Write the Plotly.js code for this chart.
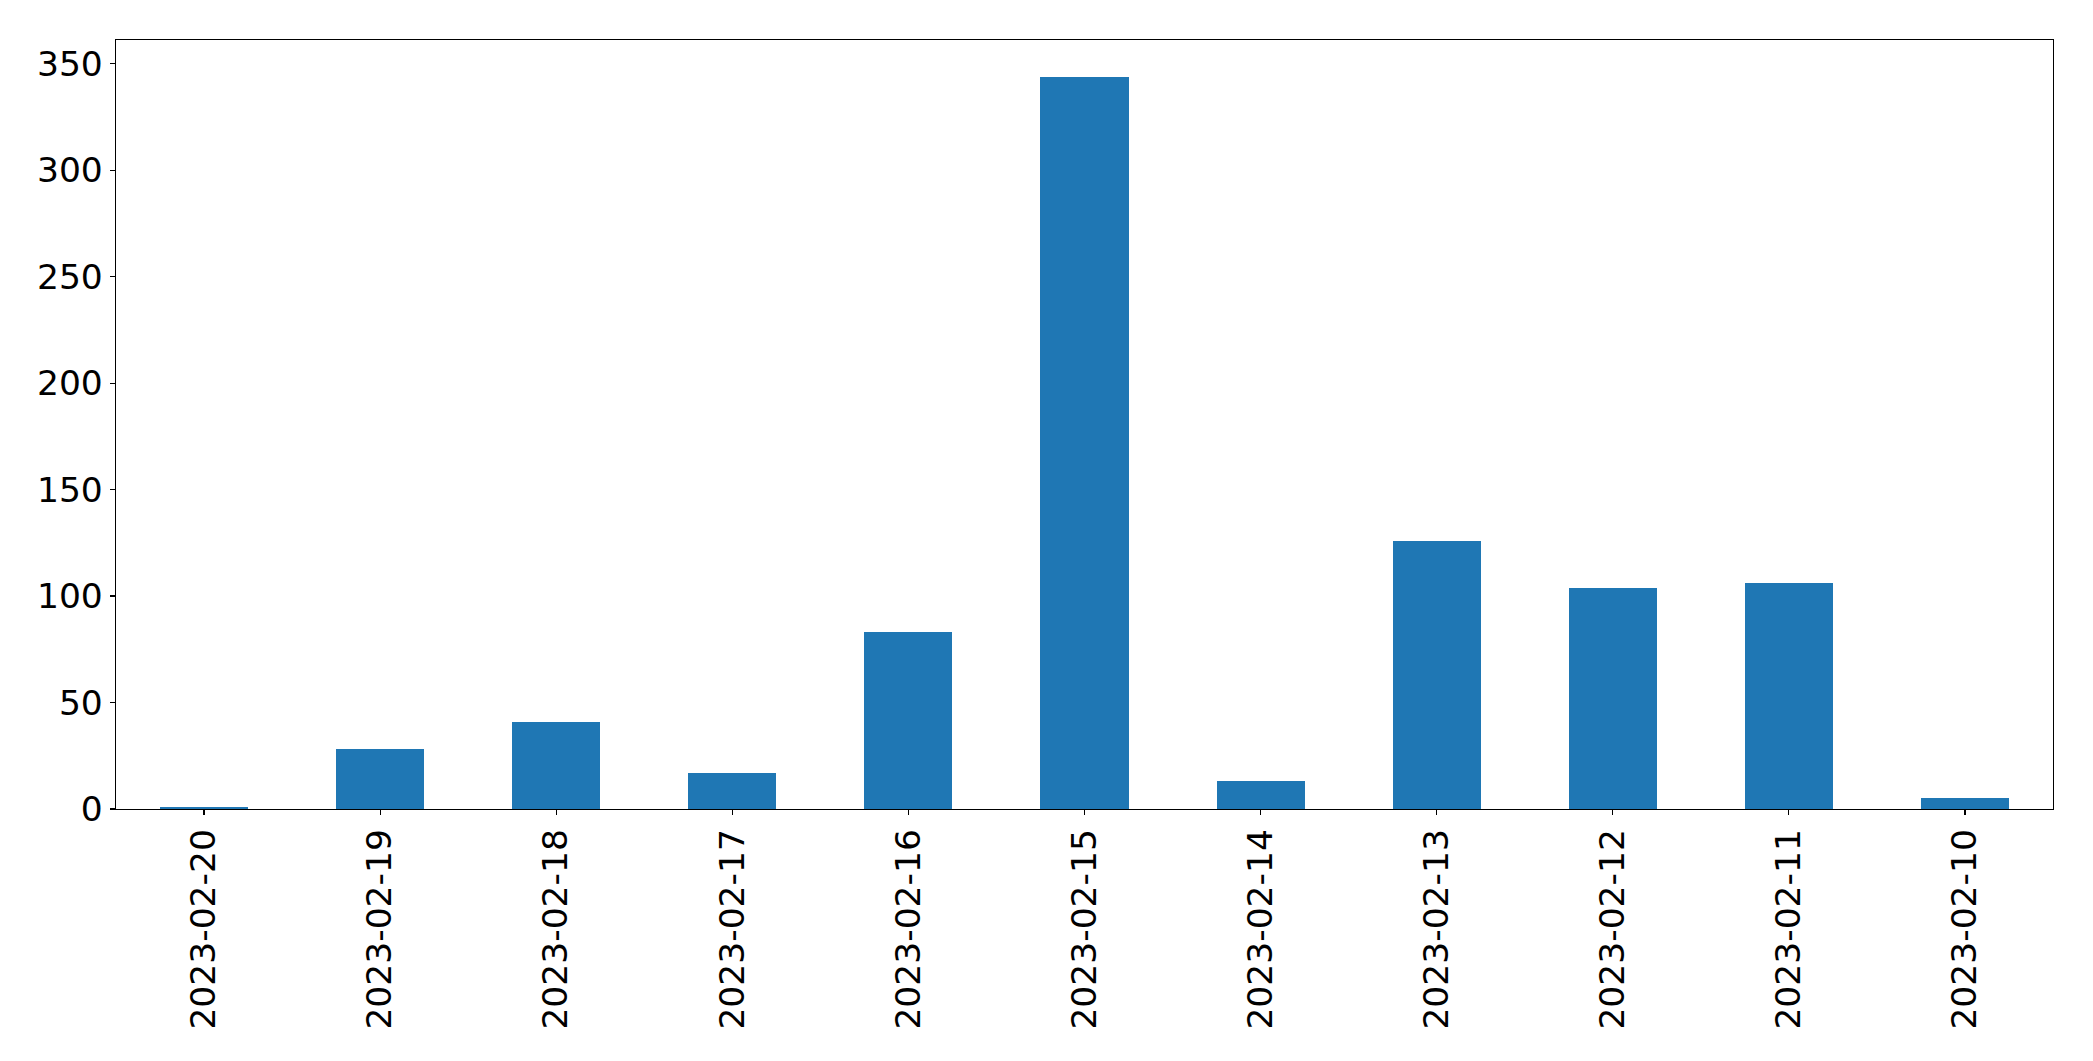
<!DOCTYPE html>
<html>
<head>
<meta charset="utf-8">
<script src="https://cdn.plot.ly/plotly-3.0.1.min.js"></script>
<style>html,body{margin:0;padding:0;background:#fff;}#chart{width:2093px;height:1061px;}</style>
</head>
<body>
<div id="chart"></div>
<script>
const dates = ["2023-02-20","2023-02-19","2023-02-18","2023-02-17","2023-02-16","2023-02-15","2023-02-14","2023-02-13","2023-02-12","2023-02-11","2023-02-10"];
const counts = [1, 28, 41, 17, 83, 344, 13, 126, 104, 106, 5];
const yTicks = [0, 50, 100, 150, 200, 250, 300, 350];

const trace = {
  type: 'bar',
  x: dates,
  y: counts,
  width: 0.5,
  marker: {color: '#1f77b4', line: {width: 0}},
  hoverinfo: 'x+y'
};

const axisFont = {family: 'DejaVu Sans, sans-serif', size: 34.5, color: '#000'};

const layout = {
  width: 2093,
  height: 1061,
  margin: {l: 116, r: 40, t: 40, b: 252, pad: 0},
  paper_bgcolor: '#fff',
  plot_bgcolor: '#fff',
  showlegend: false,
  bargap: 0,
  xaxis: {
    type: 'category',
    range: [-0.5, dates.length - 0.5],
    tickangle: -90,
    ticks: 'outside',
    ticklen: 5,
    tickwidth: 1.2,
    tickcolor: '#000',
    tickfont: axisFont,
    showline: true,
    linecolor: '#000',
    linewidth: 1.3,
    mirror: true,
    showgrid: false,
    zeroline: false,
    automargin: false
  },
  yaxis: {
    range: [0, 344 * 1.05],
    tickvals: yTicks,
    ticktext: yTicks.map(String),
    ticks: 'outside',
    ticklen: 5,
    tickwidth: 1.2,
    tickcolor: '#000',
    tickfont: axisFont,
    showline: true,
    linecolor: '#000',
    linewidth: 1.3,
    mirror: true,
    showgrid: false,
    zeroline: false,
    automargin: false
  }
};

Plotly.newPlot('chart', [trace], layout, {displayModeBar: false, staticPlot: true});
</script>
</body>
</html>
